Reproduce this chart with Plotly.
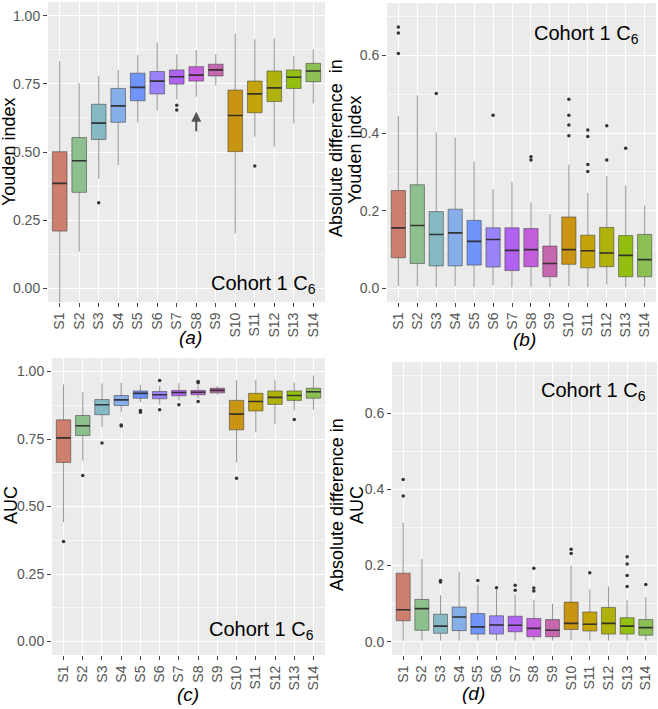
import plotly.graph_objects as go

W, H = 658, 709

categories = ["S1", "S2", "S3", "S4", "S5", "S6", "S7", "S8", "S9", "S10", "S11", "S12", "S13", "S14"]
colors = ["#CD7E6C", "#8DC08E", "#86B9C4", "#86AEE8", "#7095F8", "#9A82F8", "#B062F0",
          "#C45EDD", "#C467AE", "#C99413", "#C4A408", "#B0B20C", "#92BF10", "#8CC054"]

# Panel (a): Youden index
youden_low = [-0.07, 0.135, 0.401, 0.452, 0.608, 0.652, 0.693, 0.703, 0.744, 0.202, 0.556, 0.520, 0.605, 0.678]
youden_q1 = [0.210, 0.352, 0.546, 0.609, 0.688, 0.713, 0.749, 0.760, 0.779, 0.501, 0.644, 0.685, 0.733, 0.758]
youden_med = [0.385, 0.468, 0.606, 0.669, 0.737, 0.760, 0.776, 0.782, 0.801, 0.634, 0.713, 0.735, 0.774, 0.797]
youden_q3 = [0.501, 0.553, 0.675, 0.733, 0.789, 0.795, 0.801, 0.813, 0.822, 0.727, 0.760, 0.797, 0.801, 0.825]
youden_high = [0.834, 0.752, 0.779, 0.801, 0.856, 0.901, 0.858, 0.874, 0.859, 0.935, 0.913, 0.917, 0.852, 0.877]
youden_out = [[], [], [0.314], [], [], [], [0.671, 0.654], [], [], [], [0.449], [], [], []]

# Panel (b): absolute difference in Youden index
dyouden_low = [0.006, 0.006, 0.003, 0.006, 0.003, 0.009, 0.003, 0.003, 0.003, 0.006, 0.003, 0.010, 0.003, 0.003]
dyouden_q1 = [0.079, 0.064, 0.058, 0.058, 0.060, 0.055, 0.046, 0.056, 0.030, 0.062, 0.053, 0.056, 0.030, 0.030]
dyouden_med = [0.156, 0.162, 0.139, 0.143, 0.121, 0.126, 0.098, 0.100, 0.064, 0.100, 0.097, 0.091, 0.085, 0.074]
dyouden_q3 = [0.252, 0.267, 0.198, 0.204, 0.175, 0.156, 0.156, 0.154, 0.109, 0.184, 0.137, 0.157, 0.136, 0.139]
dyouden_high = [0.444, 0.497, 0.402, 0.389, 0.327, 0.256, 0.274, 0.222, 0.192, 0.319, 0.246, 0.289, 0.265, 0.214]
dyouden_out = [[0.673, 0.658, 0.605], [], [0.502], [], [], [0.446], [], [0.339, 0.331], [],
               [0.487, 0.446, 0.421, 0.393], [0.408, 0.391, 0.319, 0.301], [0.419, 0.331], [0.361], []]

# Panel (c): AUC
auc_low = [0.442, 0.670, 0.794, 0.849, 0.886, 0.877, 0.893, 0.901, 0.914, 0.664, 0.775, 0.806, 0.856, 0.858]
auc_q1 = [0.663, 0.763, 0.840, 0.874, 0.901, 0.899, 0.910, 0.914, 0.921, 0.784, 0.854, 0.878, 0.893, 0.901]
auc_med = [0.754, 0.799, 0.877, 0.895, 0.919, 0.914, 0.922, 0.923, 0.930, 0.842, 0.889, 0.904, 0.911, 0.925]
auc_q3 = [0.821, 0.837, 0.896, 0.911, 0.928, 0.926, 0.930, 0.930, 0.938, 0.893, 0.919, 0.928, 0.928, 0.938]
auc_high = [0.952, 0.923, 0.956, 0.958, 0.951, 0.948, 0.957, 0.948, 0.946, 0.967, 0.970, 0.970, 0.960, 0.985]
auc_out = [[0.370], [0.615], [0.735], [0.802, 0.798], [0.856, 0.849], [0.967, 0.858], [0.877],
           [0.963, 0.958, 0.889], [], [0.605], [], [], [0.822], []]

# Panel (d): absolute difference in AUC
dauc_low = [0.003, 0.003, 0.003, 0.003, 0.003, 0.003, 0.003, 0.003, 0.003, 0.004, 0.003, 0.003, 0.003, 0.003]
dauc_q1 = [0.055, 0.030, 0.022, 0.029, 0.020, 0.020, 0.026, 0.013, 0.013, 0.032, 0.028, 0.020, 0.020, 0.017]
dauc_med = [0.084, 0.087, 0.041, 0.065, 0.039, 0.044, 0.043, 0.035, 0.030, 0.048, 0.046, 0.048, 0.041, 0.037]
dauc_q3 = [0.180, 0.111, 0.072, 0.091, 0.074, 0.068, 0.067, 0.061, 0.058, 0.104, 0.078, 0.090, 0.063, 0.058]
dauc_high = [0.313, 0.217, 0.122, 0.184, 0.150, 0.137, 0.124, 0.110, 0.100, 0.200, 0.137, 0.145, 0.109, 0.117]
dauc_out = [[0.426, 0.383], [], [0.161, 0.157], [], [0.161], [0.142], [0.148, 0.135], [0.193, 0.141, 0.133], [],
            [0.243, 0.232], [0.181], [], [0.223, 0.204, 0.174, 0.145], [0.150]]

panels = [
    dict(key="", low=youden_low, q1=youden_q1, med=youden_med, q3=youden_q3, high=youden_high, out=youden_out,
         dom_x=(48, 325), dom_y=(2, 302), yrange=[-0.05, 1.05], dtick=0.25, fmt=".2f"),
    dict(key="2", low=dyouden_low, q1=dyouden_q1, med=dyouden_med, q3=dyouden_q3, high=dyouden_high, out=dyouden_out,
         dom_x=(387, 656), dom_y=(3, 302), yrange=[-0.035, 0.735], dtick=0.2, fmt=".1f"),
    dict(key="3", low=auc_low, q1=auc_q1, med=auc_med, q3=auc_q3, high=auc_high, out=auc_out,
         dom_x=(52, 325), dom_y=(358, 655), yrange=[-0.05, 1.05], dtick=0.25, fmt=".2f"),
    dict(key="4", low=dauc_low, q1=dauc_q1, med=dauc_med, q3=dauc_q3, high=dauc_high, out=dauc_out,
         dom_x=(392, 657), dom_y=(362, 655), yrange=[-0.035, 0.735], dtick=0.2, fmt=".1f"),
]

FONT = "Liberation Sans, Arial, Helvetica, sans-serif"
xpos = list(range(1, len(categories) + 1))

fig = go.Figure()
layout = dict(
    width=W, height=H, margin=dict(l=0, r=0, t=0, b=0),
    paper_bgcolor="white", plot_bgcolor="#EBEBEB", showlegend=False,
    font=dict(family=FONT, size=14, color="#555555"),
)

for p in panels:
    k = p["key"]
    xa, ya = "x" + k, "y" + k
    for i, c in enumerate(categories):
        fig.add_trace(go.Box(
            x=[xpos[i]], q1=[p["q1"][i]], median=[p["med"][i]], q3=[p["q3"][i]],
            lowerfence=[p["low"][i]], upperfence=[p["high"][i]],
            width=0.75, whiskerwidth=0, boxpoints=False,
            fillcolor=colors[i], line=dict(color="rgba(55,55,55,0.52)", width=1),
            xaxis=xa, yaxis=ya, hoverinfo="skip", name=c,
        ))
        m = p["med"][i]
        fig.add_trace(go.Box(
            x=[xpos[i]], q1=[m], median=[m], q3=[m], lowerfence=[m], upperfence=[m],
            width=0.75, whiskerwidth=0, boxpoints=False,
            fillcolor="rgba(0,0,0,0)", line=dict(color="rgba(40,40,40,0.85)", width=1.6),
            xaxis=xa, yaxis=ya, hoverinfo="skip", name=c,
        ))
        if p["out"][i]:
            fig.add_trace(go.Scatter(
                x=[xpos[i]] * len(p["out"][i]), y=p["out"][i], mode="markers",
                marker=dict(color="#333333", size=3.5), xaxis=xa, yaxis=ya, hoverinfo="skip",
            ))
    x0, x1 = p["dom_x"]
    y0, y1 = p["dom_y"]
    layout["xaxis" + k] = dict(
        domain=[x0 / W, x1 / W], anchor=ya, range=[0.4, 14.6],
        tickvals=xpos, ticktext=categories, tickangle=-90,
        showgrid=True, gridcolor="white", gridwidth=1.1, zeroline=False,
        ticks="outside", ticklen=4, tickcolor="#444", tickwidth=1,
        tickfont=dict(size=14, color="#555555"), showline=False,
    )
    layout["yaxis" + k] = dict(
        domain=[1 - y1 / H, 1 - y0 / H], anchor=xa, range=p["yrange"],
        dtick=p["dtick"], tick0=0, tickformat=p["fmt"],
        showgrid=True, gridcolor="white", gridwidth=1.1, zeroline=False,
        minor=dict(showgrid=True, gridcolor="rgba(255,255,255,0.7)", gridwidth=0.5, dtick=p["dtick"] / 2, tick0=0),
        ticks="outside", ticklen=4, tickcolor="#444", tickwidth=1,
        tickfont=dict(size=14, color="#555555"), showline=False,
    )

fig.update_layout(**layout)

anns = []
def ann(text, px, py, size=18, angle=0, italic=False, xanchor="center", yanchor="middle", color="black"):
    anns.append(dict(
        text=("<i>" + text + "</i>") if italic else text,
        x=px / W, y=1 - py / H, xref="paper", yref="paper",
        showarrow=False, textangle=angle, xanchor=xanchor, yanchor=yanchor,
        font=dict(family=FONT, size=size, color=color),
    ))

# Axis titles
ann("Youden index", 9, 152, angle=-90)
ann("Absolute difference  in", 336, 148, angle=-90)
ann("Youden index", 355, 150, angle=-90)
ann("AUC", 11, 505, angle=-90)
ann("Absolute difference in", 337, 505, angle=-90)
ann("AUC", 357, 505, angle=-90)

# Panel labels
ann("(a)", 190, 338, size=19, italic=True)
ann("(b)", 524, 340, size=19, italic=True)
ann("(c)", 188, 694, size=19, italic=True)
ann("(d)", 473, 693, size=19, italic=True)

# Cohort labels
ann("Cohort 1 C<sub>6</sub>", 318, 284, size=20, xanchor="right")
ann("Cohort 1 C<sub>6</sub>", 641, 34, size=20, xanchor="right")
ann("Cohort 1 C<sub>6</sub>", 316, 630, size=20, xanchor="right")
ann("Cohort 1 C<sub>6</sub>", 648, 391, size=20, xanchor="right")

# Arrow in panel (a) pointing at S8
anns.append(dict(
    x=8, y=0.648, ax=8, ay=0.571, xref="x", yref="y", axref="x", ayref="y",
    showarrow=True, arrowhead=2, arrowsize=1, arrowwidth=2, arrowcolor="#555555", text="",
))

fig.update_layout(annotations=anns)
fig.write_html(
    "out.html",
    config={"displayModeBar": False},
    post_script="document.body.style.margin='0';document.body.style.overflow='hidden';",
)
